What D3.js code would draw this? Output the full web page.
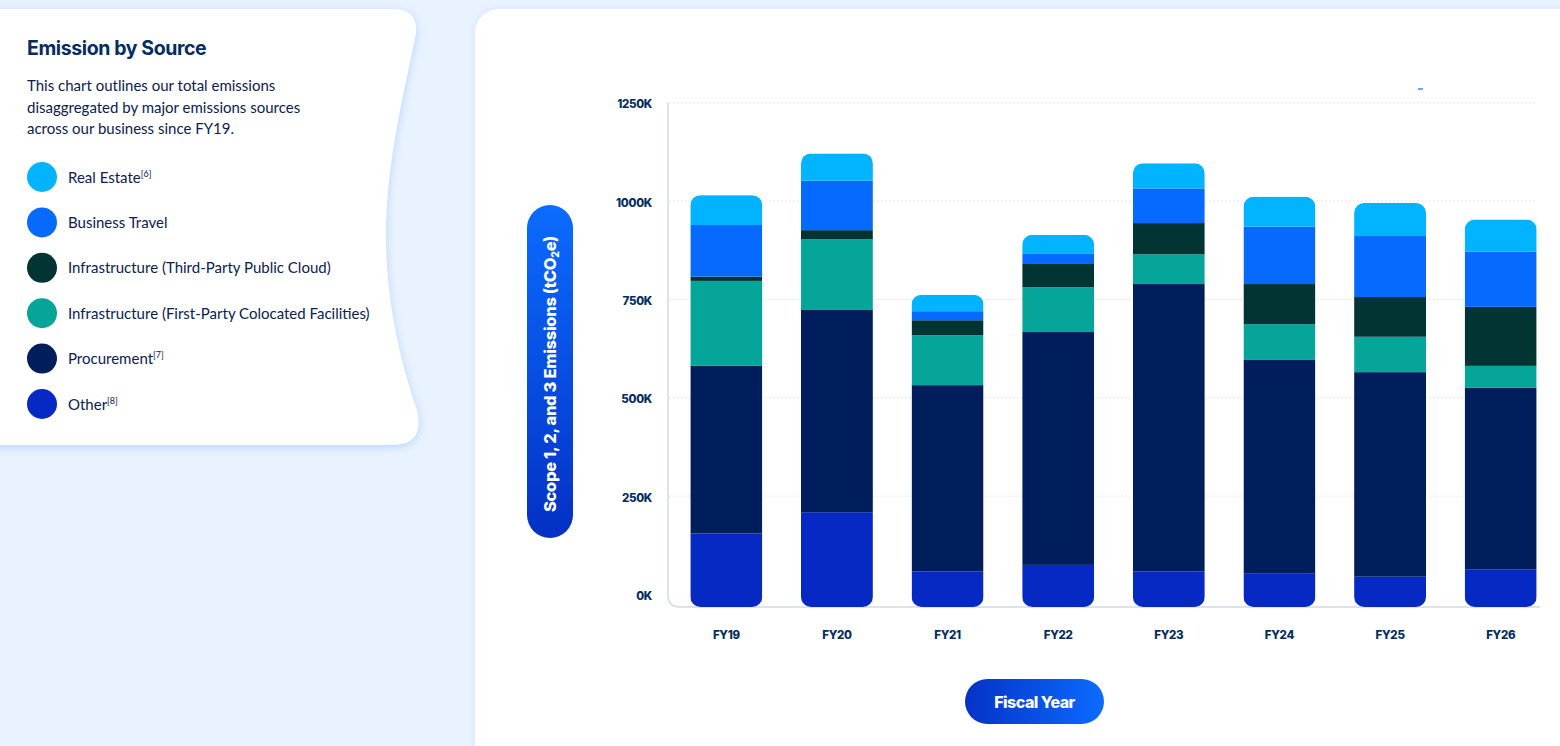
<!DOCTYPE html>
<html>
<head>
<meta charset="utf-8">
<script src="https://cdn.jsdelivr.net/npm/d3@7/dist/d3.min.js"></script>
<style>
  html, body { margin: 0; padding: 0; background: #e9f3ff; }
  svg { display: block; }
</style>
</head>
<body>
<svg id="chart" width="1560" height="746"></svg>
<script>
// ---------- DATA ----------
const fiscalYears = ["FY19", "FY20", "FY21", "FY22", "FY23", "FY24", "FY25", "FY26"];
const other          = [155000, 209000,  58000,  75000,  58000,  54000,  45000,  64000];
const procurement    = [426000, 514000, 474000, 592000, 731000, 542000, 520000, 461000];
const colocated      = [216000, 180000, 127000, 114000,  76000,  91000,  90000,  56000];
const publicCloud    = [ 11000,  23000,  38000,  59000,  79000, 102000, 101000, 150000];
const businessTravel = [131000, 126000,  23000,  27000,  88000, 146000, 155000, 140000];
const realEstate     = [ 76000,  69000,  42000,  47000,  64000,  76000,  84000,  82000];
const yTicks = [0, 250000, 500000, 750000, 1000000, 1250000];
const seriesKeys = ["other", "procurement", "colocated", "publicCloud", "businessTravel", "realEstate"];
const legendLabels = [
  ["Real Estate", "[6]"],
  ["Business Travel", ""],
  ["Infrastructure (Third-Party Public Cloud)", ""],
  ["Infrastructure (First-Party Colocated Facilities)", ""],
  ["Procurement", "[7]"],
  ["Other", "[8]"]
];
const legendKeys = ["realEstate", "businessTravel", "publicCloud", "colocated", "procurement", "other"];
const colors = {
  realEstate: "#02b4ff",
  businessTravel: "#066afe",
  publicCloud: "#023434",
  colocated: "#06a59a",
  procurement: "#001e5b",
  other: "#0529c2"
};
const titleText = "Emission by Source";
const descLines = [
  "This chart outlines our total emissions",
  "disaggregated by major emissions sources",
  "across our business since FY19."
];

// ---------- SETUP ----------
const svg = d3.select("#chart");
const navy = "#0b2150";
const boldFont = "Inter, 'DejaVu Sans', sans-serif";
const bodyFont = "Lato, 'Open Sans', sans-serif";

const defs = svg.append("defs");
const sh = defs.append("filter").attr("id", "glow").attr("x", "-20%").attr("y", "-20%").attr("width", "140%").attr("height", "140%");
sh.append("feDropShadow").attr("dx", 0).attr("dy", 2).attr("stdDeviation", 5).attr("flood-color", "#a9c9ff").attr("flood-opacity", 0.8);
const sh2 = defs.append("filter").attr("id", "glow2").attr("x", "-10%").attr("y", "-10%").attr("width", "120%").attr("height", "120%");
sh2.append("feDropShadow").attr("dx", 0).attr("dy", 0).attr("stdDeviation", 4).attr("flood-color", "#c4dbff").attr("flood-opacity", 0.6);

const gv = defs.append("linearGradient").attr("id", "gradV").attr("x1", 0).attr("y1", 0).attr("x2", 0).attr("y2", 1);
gv.append("stop").attr("offset", "0%").attr("stop-color", "#0b6cff");
gv.append("stop").attr("offset", "100%").attr("stop-color", "#0430c4");
const gh = defs.append("linearGradient").attr("id", "gradH").attr("x1", 0).attr("y1", 0).attr("x2", 1).attr("y2", 0);
gh.append("stop").attr("offset", "0%").attr("stop-color", "#0532c6");
gh.append("stop").attr("offset", "100%").attr("stop-color", "#0b6cff");

// ---------- LEFT PANEL ----------
svg.append("path")
  .attr("d", "M-20,9 H393 Q418,9 416,33 C406,85 386,160 386,235 C386,310 404,372 417,410 Q425,445 393,445 H-20 Z")
  .attr("fill", "#ffffff")
  .attr("filter", "url(#glow)");

svg.append("text").attr("x", 27).attr("y", 55)
  .attr("font-family", boldFont).attr("font-weight", 700).attr("font-size", 19.5)
  .attr("letter-spacing", -0.4).attr("fill", "#032d60").text(titleText);

svg.append("g").selectAll("text").data(descLines).join("text")
  .attr("x", 27).attr("y", (d, i) => 91 + i * 21.5)
  .attr("font-family", bodyFont).attr("font-size", 15).attr("fill", navy)
  .text(d => d);

const leg = svg.append("g").selectAll("g").data(legendKeys).join("g")
  .attr("transform", (d, i) => `translate(42,${177 + i * 45.4})`);
leg.append("circle").attr("r", 15).attr("fill", d => colors[d]);
const legText = leg.append("text").attr("x", 26).attr("y", 5.5)
  .attr("font-family", bodyFont).attr("font-size", 15).attr("fill", navy);
legText.append("tspan").text((d, i) => legendLabels[i][0]);
legText.append("tspan").attr("font-size", 9).attr("dy", -6).text((d, i) => legendLabels[i][1]);

// ---------- CHART CARD ----------
svg.append("rect").attr("x", 475).attr("y", 9).attr("width", 1120).attr("height", 800)
  .attr("rx", 24).attr("fill", "#ffffff").attr("filter", "url(#glow2)");

// scales
const yMin = -32000;
const y = d3.scaleLinear().domain([yMin, 1250000]).range([607, 102.7]);
const x = d3.scaleBand().domain(fiscalYears).range([671, 1556]).paddingInner(0.35).paddingOuter(0.175);

// gridlines
svg.append("g").selectAll("line").data(yTicks.filter(d => d > 0)).join("line")
  .attr("x1", 669).attr("x2", 1537)
  .attr("y1", d => y(d)).attr("y2", d => y(d))
  .attr("stroke", "#d9dee8").attr("stroke-width", 1).attr("stroke-dasharray", "1.5,2.5");

// axis frame
svg.append("path")
  .attr("d", `M668,${y(1250000)} V595 Q668,607 680,607 H1540`)
  .attr("fill", "none").attr("stroke", "#d3d9e6").attr("stroke-width", 1.5);

// y axis labels
const yAxis = svg.append("g").attr("transform", "translate(652,0)")
  .call(d3.axisLeft(y).tickValues(yTicks).tickSize(0).tickPadding(0).tickFormat(d => (d / 1000) + "K"));
yAxis.select(".domain").remove();
yAxis.selectAll("text").attr("font-family", boldFont).attr("font-weight", 800)
  .attr("font-size", 11.5).attr("fill", "#032d60").attr("dy", "0.45em").attr("letter-spacing", -0.3);

// x axis labels
const xAxis = svg.append("g").attr("transform", "translate(0,630)")
  .call(d3.axisBottom(x).tickSize(0).tickPadding(0));
xAxis.select(".domain").remove();
xAxis.selectAll("text").attr("font-family", boldFont).attr("font-weight", 800)
  .attr("font-size", 11.5).attr("fill", "#032d60").attr("dy", "0.75em").attr("letter-spacing", -0.3);

// stacked bars
const table = fiscalYears.map((fy, i) => ({
  fy,
  other: other[i], procurement: procurement[i], colocated: colocated[i],
  publicCloud: publicCloud[i], businessTravel: businessTravel[i], realEstate: realEstate[i]
}));
const stacked = d3.stack().keys(seriesKeys)(table);
const totals = table.map(d => d3.sum(seriesKeys, k => d[k]));

fiscalYears.forEach((fy, i) => {
  defs.append("clipPath").attr("id", "clip" + i)
    .append("rect")
    .attr("x", x(fy)).attr("y", y(totals[i]))
    .attr("width", x.bandwidth()).attr("height", y(yMin) - y(totals[i]))
    .attr("rx", 10);
});

const barsG = svg.append("g");
fiscalYears.forEach((fy, i) => {
  const g = barsG.append("g").attr("clip-path", `url(#clip${i})`);
  stacked.forEach((s, si) => {
    const lo = si === 0 ? yMin : s[i][0];
    const hi = s[i][1];
    g.append("rect")
      .attr("x", x(fy)).attr("width", x.bandwidth())
      .attr("y", y(hi)).attr("height", y(lo) - y(hi))
      .attr("fill", colors[s.key]);
  });
});

// small legend artifact (top right)
svg.append("line").attr("x1", 1418).attr("x2", 1423).attr("y1", 89).attr("y2", 89)
  .attr("stroke", "#066afe").attr("stroke-width", 1.2);

// y-axis title pill
svg.append("rect").attr("x", 527).attr("y", 205).attr("width", 46).attr("height", 333)
  .attr("rx", 23).attr("fill", "url(#gradV)");
const yt = svg.append("text")
  .attr("transform", "translate(556,374) rotate(-90)")
  .attr("text-anchor", "middle")
  .attr("font-family", boldFont).attr("font-weight", 800).attr("font-size", 16.5)
  .attr("letter-spacing", -0.3).attr("fill", "#ffffff");
yt.append("tspan").text("Scope 1, 2, and 3 Emissions (tCO");
yt.append("tspan").attr("font-size", 10.5).attr("dy", 3).text("2");
yt.append("tspan").attr("dy", -3).text("e)");

// x-axis title pill
svg.append("rect").attr("x", 965).attr("y", 679).attr("width", 139).attr("height", 45)
  .attr("rx", 22.5).attr("fill", "url(#gradH)");
svg.append("text").attr("x", 1034.5).attr("y", 707.5).attr("text-anchor", "middle")
  .attr("font-family", boldFont).attr("font-weight", 800).attr("font-size", 16)
  .attr("letter-spacing", -0.5).attr("fill", "#ffffff").text("Fiscal Year");
</script>
</body>
</html>
